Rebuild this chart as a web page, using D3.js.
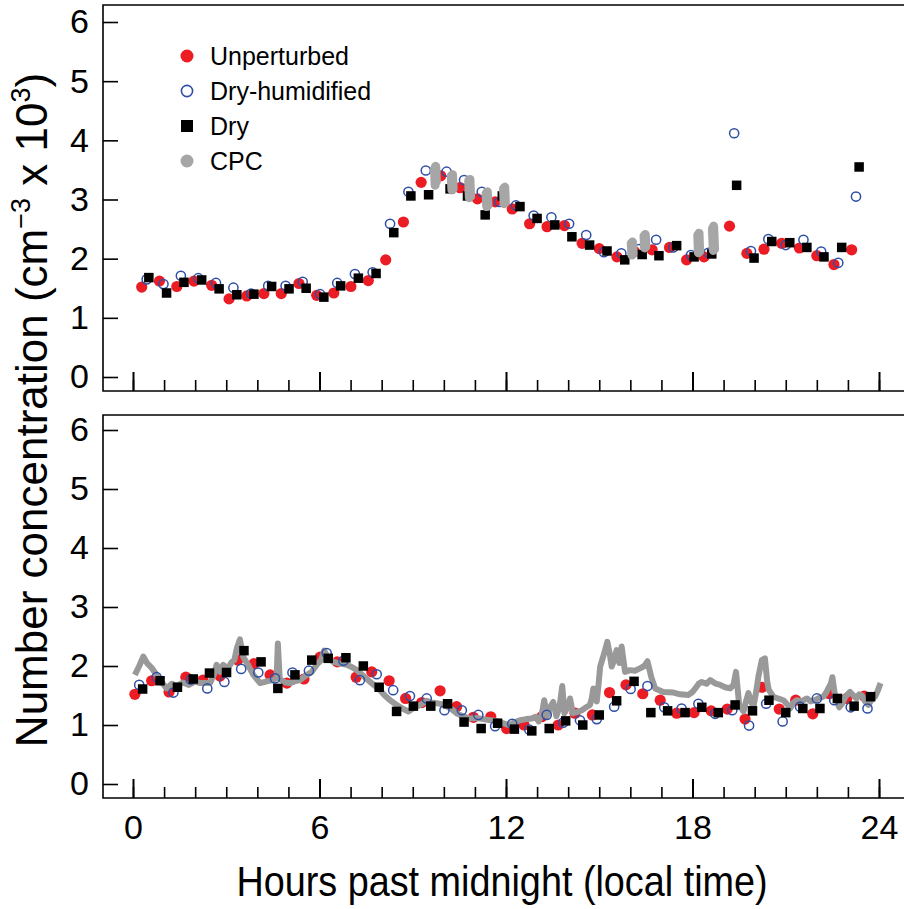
<!DOCTYPE html>
<html>
<head>
<meta charset="utf-8">
<script src="https://cdn.jsdelivr.net/npm/d3@7"></script>
<style>
	body { margin: 0; background: #fff; }
	svg { display: block; }
	svg text { font-family: "Liberation Sans", Arial, sans-serif; }
</style>
</head>
<body>
<svg id="chart" width="904" height="909"></svg>
<script>
// hours past midnight / number concentration (x 10^3 cm^-3)
var topUnperturbed = [
	[0.28, 1.52], [0.85, 1.62], [1.41, 1.53], [1.96, 1.62], [2.53, 1.55], [3.09, 1.32],
	[3.66, 1.37], [4.21, 1.41], [4.77, 1.41], [5.34, 1.58], [5.91, 1.38], [6.46, 1.42],
	[7.01, 1.53], [7.57, 1.63], [8.13, 1.98], [8.70, 2.62], [9.27, 3.29], [9.90, 3.40],
	[10.52, 3.20], [11.08, 3.01], [11.65, 2.96], [12.20, 2.84], [12.76, 2.59], [13.32, 2.54],
	[13.88, 2.56], [14.45, 2.26], [15.00, 2.17], [15.57, 2.03], [16.13, 2.12], [16.70, 2.15],
	[17.26, 2.19], [17.81, 1.98], [18.37, 2.03], [19.19, 2.55], [19.75, 2.09], [20.30, 2.16],
	[20.87, 2.26], [21.44, 2.18], [22.00, 2.05], [22.55, 1.90], [23.12, 2.15]
];
var topDryHumidified = [
	[0.44, 1.65], [0.98, 1.57], [1.54, 1.71], [2.10, 1.67], [2.67, 1.59], [3.23, 1.51],
	[3.80, 1.41], [4.35, 1.54], [4.91, 1.54], [5.46, 1.61], [6.02, 1.40], [6.57, 1.59],
	[7.14, 1.74], [7.71, 1.77], [8.27, 2.59], [8.86, 3.13], [9.42, 3.49], [10.09, 3.47],
	[10.65, 3.33], [11.22, 3.13], [11.78, 2.96], [12.32, 2.90], [12.89, 2.73], [13.46, 2.70],
	[14.03, 2.59], [14.58, 2.40], [15.15, 2.11], [15.71, 2.09], [16.28, 2.16], [16.83, 2.32],
	[17.38, 2.19], [17.95, 2.06], [18.51, 2.10], [19.34, 4.12], [19.88, 2.13], [20.44, 2.33],
	[21.00, 2.23], [21.57, 2.32], [22.14, 2.12], [22.69, 1.93], [23.26, 3.05]
];
var topDry = [
	[0.51, 1.68], [1.08, 1.42], [1.64, 1.60], [2.21, 1.64], [2.77, 1.49], [3.34, 1.39],
	[3.89, 1.40], [4.46, 1.53], [5.02, 1.49], [5.57, 1.50], [6.14, 1.35], [6.68, 1.54],
	[7.25, 1.67], [7.82, 1.75], [8.39, 2.44], [8.94, 3.06], [9.51, 3.08], [10.20, 3.18],
	[10.76, 3.06], [11.33, 2.74], [11.88, 3.06], [12.45, 2.88], [13.00, 2.68], [13.57, 2.57],
	[14.12, 2.37], [14.69, 2.23], [15.25, 2.13], [15.82, 1.98], [16.38, 2.07], [16.92, 2.05],
	[17.49, 2.22], [18.05, 2.03], [18.62, 2.08], [19.42, 3.24], [19.98, 2.01], [20.55, 2.29],
	[21.13, 2.27], [21.68, 2.19], [22.23, 2.03], [22.80, 2.19], [23.36, 3.55]
];
// cpc only sampled in short bursts on this day
var topCpc = [
	[[9.72, 3.24], [9.70, 3.52], [9.74, 3.56], [9.76, 3.30]],
	[[10.26, 3.16], [10.24, 3.40], [10.28, 3.42], [10.30, 3.18]],
	[[10.82, 3.03], [10.80, 3.32], [10.84, 3.34], [10.86, 3.05]],
	[[11.38, 2.88], [11.36, 3.10], [11.40, 3.13], [11.42, 2.90]],
	[[11.94, 2.93], [11.92, 3.18], [11.96, 3.21], [11.98, 2.95]],
	[[16.05, 2.06], [16.03, 2.26], [16.07, 2.28], [16.09, 2.08]],
	[[16.46, 2.18], [16.44, 2.38], [16.48, 2.41], [16.50, 2.20]],
	[[18.19, 2.10], [18.17, 2.40], [18.21, 2.43], [18.23, 2.12]],
	[[18.67, 2.14], [18.64, 2.50], [18.68, 2.55], [18.71, 2.16]]
];

var bottomUnperturbed = [
	[0.06, 1.52], [0.60, 1.75], [1.16, 1.56], [1.70, 1.81], [2.25, 1.76], [2.80, 1.83],
	[3.37, 2.10], [3.89, 2.04], [4.41, 1.85], [4.95, 1.71], [5.50, 1.78], [6.02, 2.15],
	[6.57, 2.07], [7.18, 1.81], [7.68, 1.90], [8.24, 1.75], [8.77, 1.45], [9.29, 1.38],
	[9.88, 1.58], [10.41, 1.31], [10.95, 1.13], [11.51, 1.14], [12.02, 0.94], [12.58, 1.00],
	[13.15, 1.14], [13.68, 1.00], [14.22, 1.20], [14.78, 1.17], [15.33, 1.55], [15.86, 1.68],
	[16.40, 1.53], [16.96, 1.42], [17.49, 1.20], [18.05, 1.21], [18.60, 1.24], [19.12, 1.27],
	[19.69, 1.10], [20.23, 1.64], [20.79, 1.27], [21.32, 1.42], [21.87, 1.19], [22.40, 1.53],
	[22.96, 1.45], [23.52, 1.49]
];
var bottomDryHumidified = [
	[0.20, 1.68], [0.76, 1.81], [1.30, 1.55], [1.86, 1.77], [2.39, 1.62], [2.94, 1.73],
	[3.48, 1.95], [4.03, 1.89], [4.57, 1.79], [5.13, 1.89], [5.66, 1.92], [6.23, 2.22],
	[6.77, 2.09], [7.30, 1.76], [7.84, 1.86], [8.37, 1.59], [8.91, 1.49], [9.45, 1.45],
	[10.02, 1.25], [10.58, 1.25], [11.11, 1.17], [11.65, 0.98], [12.20, 1.02], [12.75, 0.92],
	[13.31, 1.17], [13.84, 1.04], [14.38, 1.08], [14.92, 1.10], [15.48, 1.31], [16.01, 1.61],
	[16.55, 1.66], [17.09, 1.30], [17.65, 1.28], [18.19, 1.36], [18.73, 1.19], [19.28, 1.25],
	[19.82, 0.99], [20.37, 1.36], [20.90, 1.06], [21.46, 1.31], [22.00, 1.45], [22.56, 1.42],
	[23.09, 1.30], [23.63, 1.28]
];
var bottomDry = [
	[0.31, 1.61], [0.87, 1.75], [1.43, 1.64], [1.94, 1.78], [2.46, 1.88], [3.01, 1.89],
	[3.57, 2.26], [4.12, 2.07], [4.66, 1.62], [5.21, 1.85], [5.75, 2.10], [6.28, 2.13],
	[6.85, 2.14], [7.41, 2.00], [7.92, 1.64], [8.48, 1.23], [9.02, 1.32], [9.58, 1.32],
	[10.12, 1.36], [10.65, 1.05], [11.20, 0.94], [11.73, 1.03], [12.27, 0.93], [12.83, 0.90],
	[13.39, 0.94], [13.92, 1.07], [14.47, 1.00], [15.00, 1.17], [15.56, 1.41], [16.12, 1.74],
	[16.66, 1.21], [17.20, 1.24], [17.76, 1.21], [18.30, 1.30], [18.83, 1.21], [19.37, 1.34],
	[19.93, 1.24], [20.46, 1.42], [21.00, 1.21], [21.55, 1.28], [22.10, 1.28], [22.66, 1.45],
	[23.20, 1.32], [23.73, 1.48]
];
var bottomCpc = [
	[0.06, 1.85], [0.20, 2.00], [0.33, 2.16], [0.45, 2.05], [0.60, 1.97], [0.87, 1.76],
	[1.08, 1.62], [1.25, 1.70], [1.40, 1.66], [1.60, 1.72], [1.80, 1.68], [2.00, 1.74],
	[2.16, 1.71], [2.48, 1.71], [2.60, 1.85], [2.69, 2.02], [2.80, 1.90], [2.90, 2.02],
	[3.05, 1.96], [3.18, 2.07], [3.26, 2.10], [3.34, 2.30], [3.44, 2.45], [3.55, 2.15],
	[3.70, 2.02], [3.87, 1.85], [4.09, 1.71], [4.30, 1.74], [4.51, 1.76], [4.62, 1.80],
	[4.66, 2.38], [4.72, 1.78], [4.90, 1.72], [5.05, 1.71], [5.20, 1.74], [5.37, 1.76],
	[5.59, 1.85], [5.75, 1.90], [5.91, 2.02], [6.05, 2.10], [6.15, 2.26], [6.30, 2.12],
	[6.45, 2.07], [6.65, 2.04], [6.88, 2.02], [7.05, 1.98], [7.20, 1.93], [7.40, 1.84],
	[7.63, 1.73], [7.95, 1.59], [8.10, 1.50], [8.27, 1.42], [8.54, 1.32], [8.70, 1.27],
	[8.86, 1.23], [9.00, 1.28], [9.13, 1.31], [9.30, 1.36], [9.45, 1.41], [9.60, 1.38],
	[9.77, 1.37], [9.95, 1.35], [10.09, 1.32], [10.25, 1.27], [10.41, 1.20], [10.60, 1.15],
	[10.84, 1.11], [11.05, 1.12], [11.27, 1.10], [11.50, 1.08], [11.70, 1.07], [11.90, 1.03],
	[12.08, 1.00], [12.25, 1.04], [12.45, 1.08], [12.65, 1.10], [12.83, 1.11], [12.95, 1.14],
	[13.05, 1.06], [13.15, 1.18], [13.23, 1.42], [13.32, 1.15], [13.42, 1.30], [13.52, 1.39],
	[13.62, 1.15], [13.72, 1.30], [13.81, 1.66], [13.88, 1.20], [13.98, 1.30], [14.06, 1.45],
	[14.15, 1.20], [14.30, 1.22], [14.44, 1.25], [14.58, 1.30], [14.70, 1.34], [14.76, 1.45],
	[14.81, 1.62], [14.92, 1.40], [14.98, 1.70], [15.03, 1.99], [15.15, 2.20], [15.26, 2.41],
	[15.34, 2.20], [15.40, 1.99], [15.48, 2.10], [15.56, 2.27], [15.65, 2.05], [15.72, 2.33],
	[15.83, 1.90], [15.99, 1.93], [16.15, 1.92], [16.31, 1.96], [16.45, 2.00], [16.55, 2.08],
	[16.68, 1.80], [16.80, 1.62], [17.06, 1.56], [17.39, 1.55], [17.60, 1.52], [17.87, 1.51],
	[18.00, 1.56], [18.09, 1.62], [18.20, 1.70], [18.30, 1.73], [18.45, 1.70], [18.57, 1.76],
	[18.75, 1.70], [18.89, 1.68], [19.05, 1.64], [19.21, 1.62], [19.32, 1.68], [19.40, 1.90],
	[19.50, 1.35], [19.64, 1.23], [19.72, 1.40], [19.80, 1.54], [19.88, 1.40], [19.96, 1.31],
	[20.06, 1.60], [20.12, 1.82], [20.23, 2.10], [20.33, 2.13], [20.40, 1.75], [20.45, 1.60],
	[20.60, 1.48], [20.75, 1.45], [20.92, 1.42], [21.05, 1.35], [21.14, 1.28], [21.25, 1.38],
	[21.35, 1.42], [21.50, 1.40], [21.68, 1.45], [21.80, 1.40], [21.94, 1.42], [22.08, 1.46],
	[22.21, 1.48], [22.30, 1.55], [22.37, 1.62], [22.45, 1.70], [22.50, 1.81], [22.57, 1.55],
	[22.64, 1.42], [22.72, 1.30], [22.80, 1.35], [22.92, 1.48], [23.07, 1.56], [23.18, 1.50],
	[23.28, 1.45], [23.36, 1.52], [23.45, 1.50], [23.55, 1.40], [23.66, 1.34], [23.75, 1.42],
	[23.87, 1.48], [23.96, 1.58], [24.05, 1.71]
];

var yTicks = [0, 1, 2, 3, 4, 5, 6];
var xMajorTicks = [0, 6, 12, 18, 24];
var xMinorTicks = d3.range(0, 25);
var legendLabels = ['Unperturbed', 'Dry-humidified', 'Dry', 'CPC'];

var red = '#ec1c24';
var blue = '#2f4fa6';
var grey = '#a6a6a6';
var font = '"Liberation Sans", Arial, sans-serif';

var svg = d3.select('#chart');

// shared time axis
var x = d3.scaleLinear().domain([0, 24]).range([133, 879]);
var frameLeft = 103;
var frameRight = 910;

var panels = [
	{ top: 5, bottom: 391, y: d3.scaleLinear().domain([0, 6]).range([377, 22]), labels: false },
	{ top: 415, bottom: 798, y: d3.scaleLinear().domain([0, 6]).range([784, 430]), labels: true }
];

panels.forEach(function(p) {
	var g = svg.append('g');

	// frame: left spine, top and bottom lines (right edge runs off the page)
	g.append('path')
		.attr('d', 'M' + frameRight + ',' + p.top + 'H' + frameLeft + 'V' + p.bottom + 'H' + frameRight)
		.attr('fill', 'none')
		.attr('stroke', '#000')
		.attr('stroke-width', 1.6);

	var yAxis = g.append('g')
		.attr('transform', 'translate(' + frameLeft + ',0)')
		.call(d3.axisLeft(p.y).tickValues(yTicks).tickFormat(d3.format('d'))
			.tickSizeInner(-15).tickSizeOuter(0).tickPadding(14));
	yAxis.select('.domain').remove();
	yAxis.attr('font-family', font).attr('font-size', 34);
	yAxis.selectAll('line').attr('stroke-width', 1.6);
	yAxis.selectAll('text').attr('fill', '#000');

	var minor = g.append('g')
		.attr('transform', 'translate(0,' + p.bottom + ')')
		.call(d3.axisBottom(x).tickValues(xMinorTicks).tickSizeInner(-11).tickSizeOuter(0).tickFormat(''));
	minor.select('.domain').remove();
	minor.selectAll('line').attr('stroke-width', 1.6);

	var major = g.append('g')
		.attr('transform', 'translate(0,' + p.bottom + ')')
		.call(d3.axisBottom(x).tickValues(xMajorTicks).tickSizeInner(-19).tickSizeOuter(0).tickPadding(17)
			.tickFormat(p.labels ? d3.format('d') : ''));
	major.select('.domain').remove();
	major.attr('font-family', font).attr('font-size', 34);
	major.selectAll('line').attr('stroke-width', 2);
	major.selectAll('text').attr('fill', '#000');

	p.g = g;
});

function circles(g, y, data, r) {
	return g.append('g').selectAll('circle')
		.data(data)
		.join('circle')
		.attr('cx', function(d) { return x(d[0]); })
		.attr('cy', function(d) { return y(d[1]); })
		.attr('r', r);
}

function squares(g, y, data) {
	return g.append('g').selectAll('rect')
		.data(data)
		.join('rect')
		.attr('x', function(d) { return x(d[0]) - 4.75; })
		.attr('y', function(d) { return y(d[1]) - 4.75; })
		.attr('width', 9.5)
		.attr('height', 9.5)
		.attr('fill', '#000');
}

var line = function(y) {
	return d3.line()
		.x(function(d) { return x(d[0]); })
		.y(function(d) { return y(d[1]); });
};

// top panel: markers, cpc bursts drawn over them
var topPanel = panels[0];
circles(topPanel.g, topPanel.y, topUnperturbed, 5.6).attr('fill', red);
circles(topPanel.g, topPanel.y, topDryHumidified, 4.6)
	.attr('fill', 'none').attr('stroke', blue).attr('stroke-width', 1.5);
squares(topPanel.g, topPanel.y, topDry);
topPanel.g.append('g').selectAll('path')
	.data(topCpc)
	.join('path')
	.attr('d', line(topPanel.y))
	.attr('fill', 'none')
	.attr('stroke', grey)
	.attr('stroke-width', 9)
	.attr('stroke-linejoin', 'round')
	.attr('stroke-linecap', 'round');

// bottom panel: continuous cpc trace between the red and the other markers
var botPanel = panels[1];
circles(botPanel.g, botPanel.y, bottomUnperturbed, 5.6).attr('fill', red);
botPanel.g.append('path')
	.datum(bottomCpc)
	.attr('d', line(botPanel.y))
	.attr('fill', 'none')
	.attr('stroke', '#999')
	.attr('stroke-width', 6)
	.attr('stroke-linejoin', 'round');
circles(botPanel.g, botPanel.y, bottomDryHumidified, 4.6)
	.attr('fill', 'none').attr('stroke', blue).attr('stroke-width', 1.5);
squares(botPanel.g, botPanel.y, bottomDry);

// legend
var legend = svg.append('g').attr('transform', 'translate(187,56)');
var rows = legend.selectAll('g')
	.data(legendLabels)
	.join('g')
	.attr('transform', function(d, i) { return 'translate(0,' + (i * 35) + ')'; });
rows.filter(function(d, i) { return i === 0; }).append('circle').attr('r', 6.5).attr('fill', red);
rows.filter(function(d, i) { return i === 1; }).append('circle').attr('r', 5.6)
	.attr('fill', 'none').attr('stroke', blue).attr('stroke-width', 1.6);
rows.filter(function(d, i) { return i === 2; }).append('rect')
	.attr('x', -6).attr('y', -6).attr('width', 12).attr('height', 12).attr('fill', '#000');
rows.filter(function(d, i) { return i === 3; }).append('circle').attr('r', 6.5).attr('fill', grey);
rows.append('text')
	.attr('x', 23)
	.attr('dy', '0.36em')
	.attr('font-size', 25)
	.text(function(d) { return d; });

// axis titles
svg.append('text')
	.attr('transform', 'translate(502,896) scale(0.9,1)')
	.attr('text-anchor', 'middle')
	.attr('font-size', 42)
	.text('Hours past midnight (local time)');

var yTitle = svg.append('text')
	.attr('transform', 'translate(47,410) rotate(-90)')
	.attr('text-anchor', 'middle')
	.attr('font-size', 44);
yTitle.append('tspan').text('Number concentration (cm');
yTitle.append('tspan').attr('font-size', 27).attr('dy', -17).text('\u22123');
yTitle.append('tspan').attr('dy', 17).text(' x 10');
yTitle.append('tspan').attr('font-size', 27).attr('dy', -17).text('3');
yTitle.append('tspan').attr('dy', 17).text(')');
</script>
</body>
</html>
